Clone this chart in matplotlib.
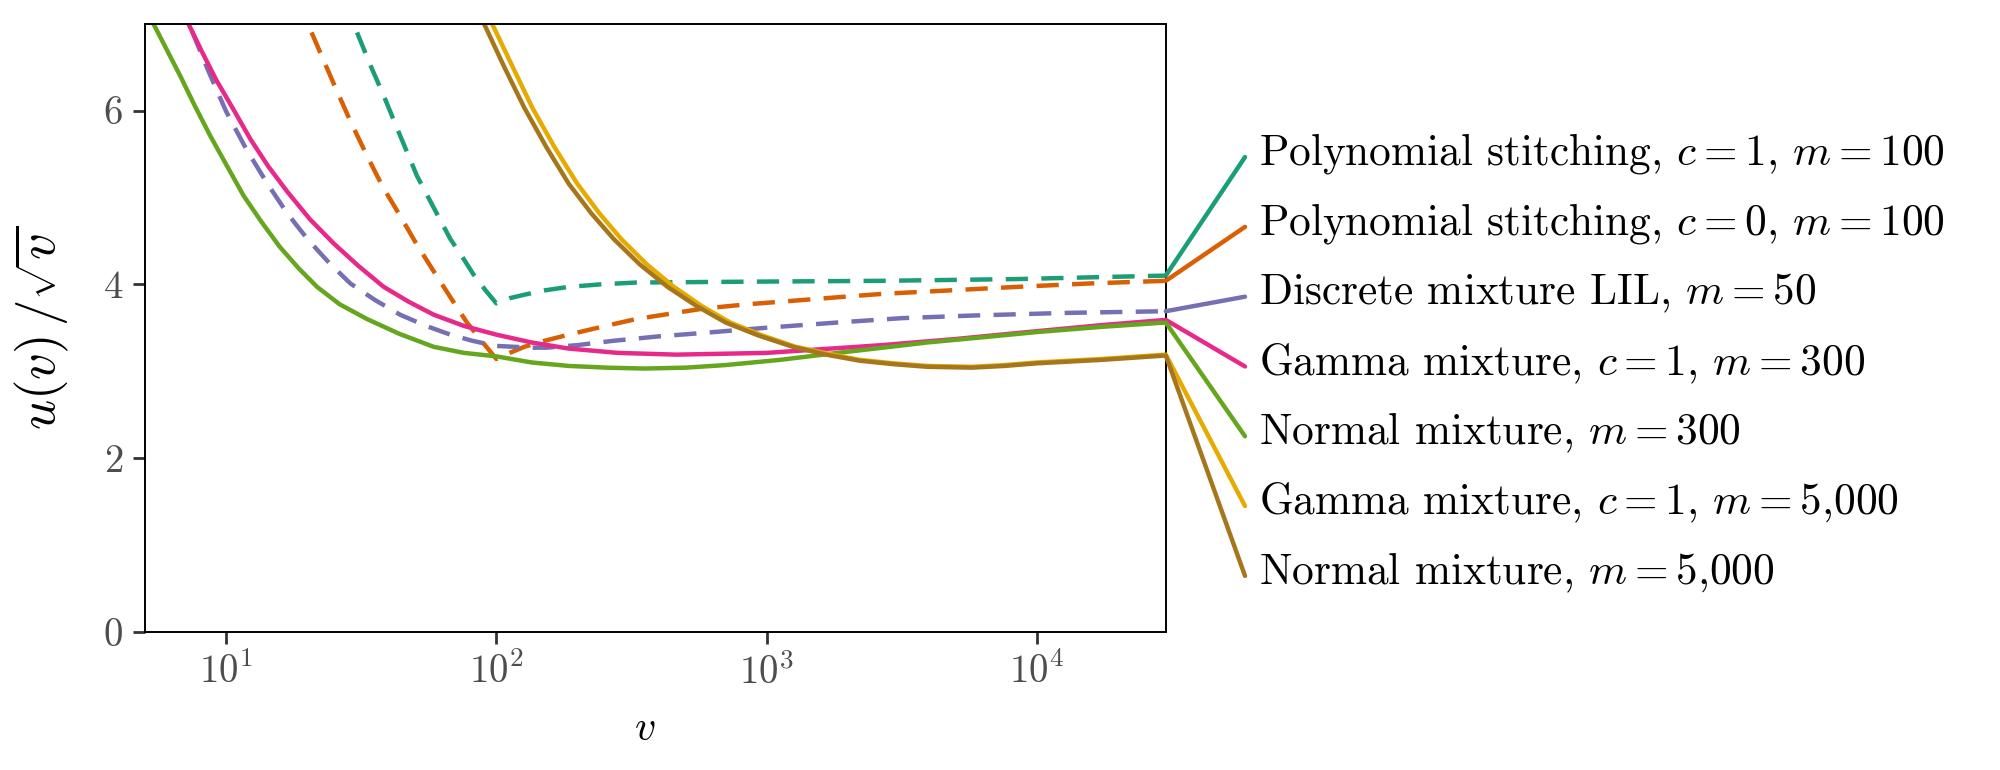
import matplotlib
matplotlib.use("Agg")
import matplotlib.pyplot as plt
from matplotlib.patches import ConnectionPatch
from matplotlib.ticker import FixedLocator, LogFormatterMathtext, NullLocator

plt.rcParams["font.family"] = "serif"
plt.rcParams["font.serif"] = ["cmr10"]
plt.rcParams["mathtext.fontset"] = "cm"
plt.rcParams["axes.formatter.use_mathtext"] = True
plt.rcParams["axes.unicode_minus"] = False

# values (v, u(v)/sqrt(v))
poly_c1_v = [30.5, 34.1, 38.3, 44.2, 50.8, 58.9, 67.6, 75, 82.4, 91.2, 100, 112, 127, 151, 185,
             245, 329, 851, 2690, 8410, 15800, 30000]
poly_c1_y = [6.90, 6.53, 6.17, 5.70, 5.25, 4.87, 4.52, 4.31, 4.11, 3.93, 3.78, 3.84, 3.88, 3.93, 3.97,
             4.00, 4.02, 4.03, 4.04, 4.06, 4.08, 4.10]

poly_c0_v = [20.7, 25, 28.8, 33.2, 38, 44, 50.7, 58.6, 67.6, 77.8, 89.1, 100, 112, 127, 151, 185,
             245, 329, 437, 583, 851, 1250, 1820, 2690, 4790, 8410, 15800, 30000]
poly_c0_y = [6.90, 6.31, 5.88, 5.48, 5.12, 4.79, 4.46, 4.15, 3.85, 3.56, 3.33, 3.14, 3.21, 3.28, 3.35, 3.42,
             3.51, 3.60, 3.66, 3.72, 3.77, 3.81, 3.85, 3.89, 3.93, 3.97, 4.01, 4.04]

lil_v = [7.46, 8.61, 10, 11.9, 14.2, 16.8, 20, 24, 28.8, 35.5, 44, 55, 67.6, 81.3, 100, 137, 153,
         200, 272, 398, 583, 1000, 1830, 3160, 5750, 12600, 30000]
lil_y = [6.92, 6.45, 5.99, 5.55, 5.16, 4.82, 4.52, 4.25, 4.01, 3.82, 3.65, 3.52, 3.42, 3.35, 3.29, 3.27, 3.27,
         3.30, 3.35, 3.40, 3.44, 3.50, 3.56, 3.61, 3.64, 3.67, 3.69]

gamma300_v = [6.9, 7.25, 8.13, 9.2, 10.7, 12.3, 14.3, 16.8, 20.4, 25, 30.9, 38.3, 47.3, 58.6, 75.9,
              100, 135, 185, 282, 463, 1000, 2690, 5010, 10000, 17400, 30000]
gamma300_y = [7.20, 7.00, 6.68, 6.35, 6.00, 5.67, 5.36, 5.07, 4.75, 4.47, 4.21, 3.97, 3.80, 3.65, 3.52,
              3.42, 3.33, 3.26, 3.21, 3.19, 3.21, 3.30, 3.37, 3.46, 3.53, 3.59]

normal300_v = [5.0, 5.38, 6.03, 6.76, 7.67, 8.73, 10, 11.6, 13.5, 15.8, 18.6, 21.7, 26.3, 33.2, 43.7,
               58.6, 75.9, 100, 135, 185, 257, 355, 501, 705, 1122, 1830, 2690, 3930, 6310, 10000,
               17400, 30000]
normal300_y = [7.15, 7.00, 6.70, 6.40, 6.05, 5.71, 5.38, 5.02, 4.72, 4.43, 4.18, 3.97, 3.77, 3.60, 3.43,
               3.28, 3.21, 3.17, 3.10, 3.06, 3.04, 3.03, 3.04, 3.07, 3.13, 3.21, 3.27, 3.33, 3.39, 3.45,
               3.51, 3.56]

gamma5000_v = [93, 96.4, 115, 136, 164, 199, 240, 290, 360, 454, 575, 733, 966, 1282, 1700, 2210,
               2950, 3930, 5750, 7590, 10000, 17400, 30000]
gamma5000_y = [7.15, 7.00, 6.50, 6.03, 5.58, 5.16, 4.82, 4.52, 4.23, 3.97, 3.75, 3.56, 3.41, 3.28, 3.20, 3.13,
               3.09, 3.06, 3.05, 3.07, 3.10, 3.14, 3.19]

normal5000_v = [87, 90, 107, 127, 153, 185, 224, 272, 339, 430, 550, 705, 933, 1250, 1660, 2210,
                2950, 3930, 5750, 7590, 10000, 17400, 30000]
normal5000_y = [7.15, 7.00, 6.50, 6.03, 5.58, 5.16, 4.82, 4.52, 4.23, 3.97, 3.75, 3.56, 3.41, 3.28, 3.19, 3.12,
                3.08, 3.05, 3.04, 3.06, 3.09, 3.13, 3.18]

series_v = [poly_c1_v, poly_c0_v, lil_v, gamma300_v, normal300_v, gamma5000_v, normal5000_v]
series_y = [poly_c1_y, poly_c0_y, lil_y, gamma300_y, normal300_y, gamma5000_y, normal5000_y]

labels = [
    r"Polynomial stitching, $c = 1$, $m = 100$",
    r"Polynomial stitching, $c = 0$, $m = 100$",
    r"Discrete mixture LIL, $m = 50$",
    r"Gamma mixture, $c = 1$, $m = 300$",
    r"Normal mixture, $m = 300$",
    r"Gamma mixture, $c = 1$, $m = 5{,}000$",
    r"Normal mixture, $m = 5{,}000$",
]
colors = ["#1B9E77", "#D95F02", "#7570B3", "#E7298A", "#66A61E", "#E6AB02", "#A6761D"]
dashed = [True, True, True, False, False, False, False]

fig = plt.figure(figsize=(10, 3.85), dpi=200)
ax = fig.add_axes([0.0724, 0.1796, 0.5105, 0.7896])

for v, y, c, d in zip(series_v, series_y, colors, dashed):
    ls = (0, (5, 3)) if d else "-"
    ax.plot(v, y, color=c, lw=1.6, linestyle=ls, solid_joinstyle="round")

ax.set_xscale("log")
ax.set_xlim(5, 30000)
ax.set_ylim(0, 7)
ax.xaxis.set_major_locator(FixedLocator([10, 100, 1000, 10000]))
ax.xaxis.set_major_formatter(LogFormatterMathtext())
ax.xaxis.set_minor_locator(NullLocator())
ax.set_yticks([0, 2, 4, 6])

for s in ax.spines.values():
    s.set_linewidth(0.7)
    s.set_color("black")
ax.tick_params(direction="out", length=4.3, width=1.0, color="#333333",
               labelcolor="#4D4D4D", labelsize=14, pad=3.5)

ax.set_xlabel(r"$v$", fontsize=15)
ax.set_ylabel(r"$u(v)\,/\sqrt{v}$", fontsize=19)
ax.xaxis.set_label_coords(0.49, -0.13)
ax.yaxis.set_label_coords(-0.072, 0.5)

# direct labels on the right, joined to the line ends
label_x = 1259 / 2000
link_x = 1245 / 2000
for i, (v, y, c, lab) in enumerate(zip(series_v, series_y, colors, labels)):
    ly = 1 - (154 + 69.8 * i) / 770
    link = ConnectionPatch(xyA=(v[-1], y[-1]), coordsA="data", axesA=ax,
                           xyB=(link_x, ly - 0.004), coordsB="figure fraction",
                           color=c, lw=1.6, clip_on=False)
    fig.add_artist(link)
    fig.text(label_x, ly, lab, ha="left", va="center", fontsize=15.6, color="black")

fig.savefig("out.png", dpi=200, facecolor="white")
